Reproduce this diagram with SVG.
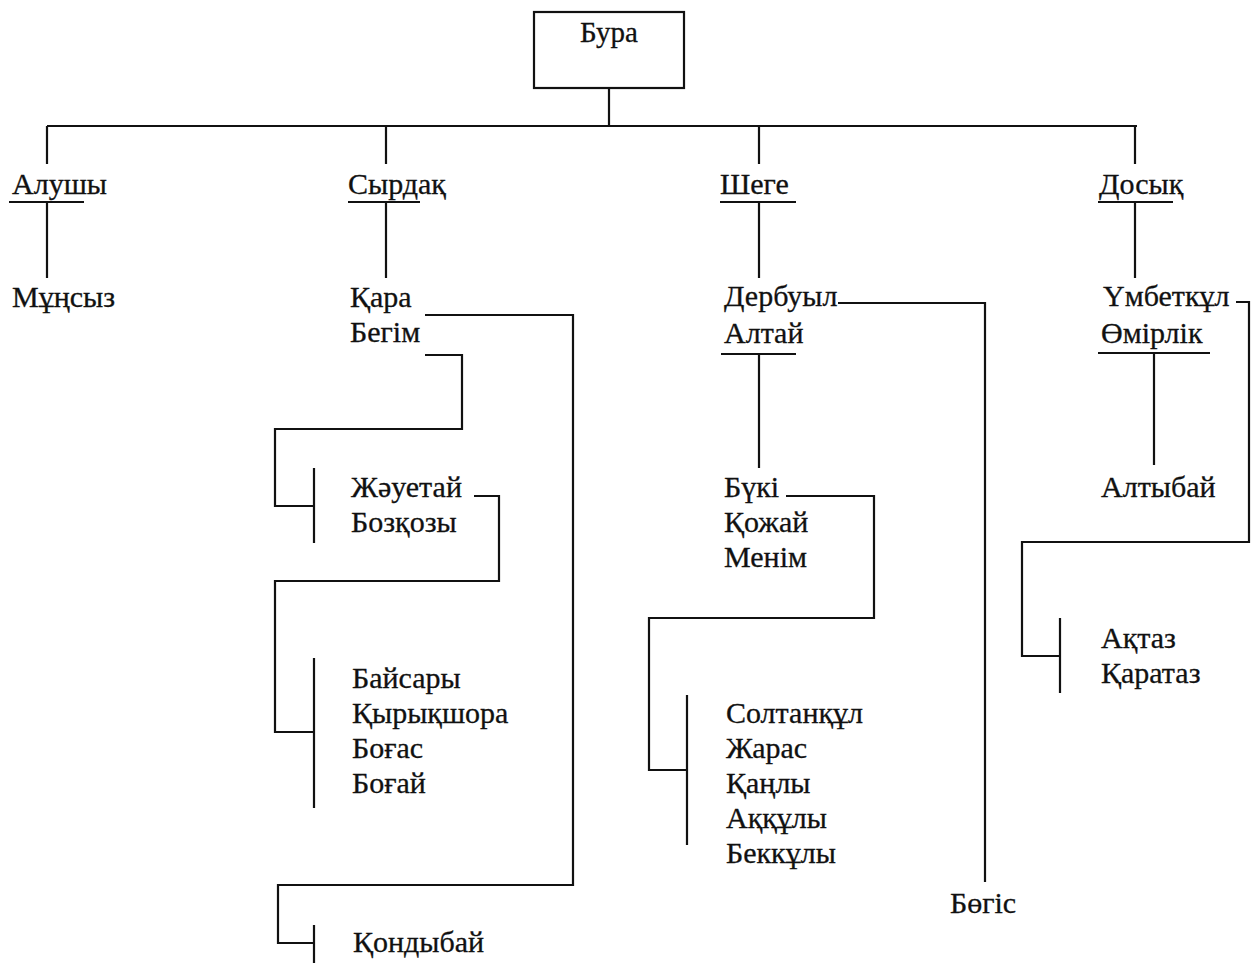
<svg xmlns="http://www.w3.org/2000/svg" width="1257" height="963" viewBox="0 0 1257 963">
<style>
text{font-family:"Liberation Serif","Times New Roman",serif;font-size:30px;fill:#111;stroke:#111;stroke-width:0.3}
.l{fill:none;stroke:#111;stroke-width:2.2}
</style>
<rect width="1257" height="963" fill="#fff"/>
<g id="connectors" class="l">
<path d="M609 88V126M47 126H1137M47 126V164M386 126V164M759 126V164M1135 126V164"/>
<path d="M47 202V278M386 202V278M759 202V278M1135 202V278"/>
<path d="M9 202H84M348 202H420M720 202H796M1098 202H1173"/>
<path d="M721 354H796M759 354V468"/>
<path d="M1098 353H1210M1154 353V465"/>
<path d="M425 315H573V885H278V943H314M314 925V963"/>
<path d="M425 355H462V429H275V506H314M314 468V543"/>
<path d="M474 496H499V581H275V732H314M314 658V808"/>
<path d="M786 496H874V618H649V770H687M687 695V845"/>
<path d="M838 303H985V882"/>
<path d="M1236 302H1249V542H1022V656H1060M1060 618V693"/>
</g>
<g id="bura"><rect x="534" y="12" width="150" height="76" fill="none" stroke="#111" stroke-width="2.2"/><text x="609" y="42" text-anchor="middle" style="font-size:29px">Бура</text></g>
<g id="alushy"><text x="12" y="194">Алушы</text></g>
<g id="mungsyz"><text x="12" y="307">Мұңсыз</text></g>
<g id="syrdak"><text x="348" y="194">Сырдақ</text></g>
<g id="kara-begim"><text x="350" y="307">Қара</text><text x="350" y="342">Бегім</text></g>
<g id="zhauetai"><text x="351" y="497">Жәуетай</text><text x="351" y="532">Бозқозы</text></g>
<g id="baisary"><text x="352" y="688">Байсары</text><text x="352" y="723">Қырықшора</text><text x="352" y="758">Боғас</text><text x="352" y="793">Боғай</text></g>
<g id="kondybai"><text x="353" y="952">Қондыбай</text></g>
<g id="shege"><text x="720" y="194">Шеге</text></g>
<g id="derbuyl"><text x="724" y="306">Дербуыл</text><text x="724" y="343">Алтай</text></g>
<g id="buki"><text x="724" y="497">Бүкі</text><text x="724" y="532">Қожай</text><text x="724" y="567">Менім</text></g>
<g id="soltankul"><text x="726" y="723">Солтанқұл</text><text x="726" y="758">Жарас</text><text x="726" y="793">Қаңлы</text><text x="726" y="828">Аққұлы</text><text x="726" y="863">Беккұлы</text></g>
<g id="bogis"><text x="950" y="913">Бөгіс</text></g>
<g id="dosyk"><text x="1099" y="194">Досық</text></g>
<g id="umbetkul"><text x="1103" y="306">Үмбеткұл</text><text x="1101" y="343">Өмірлік</text></g>
<g id="altybai"><text x="1101" y="497">Алтыбай</text></g>
<g id="aktaz"><text x="1101" y="648">Ақтаз</text><text x="1101" y="683">Қаратаз</text></g>
</svg>
